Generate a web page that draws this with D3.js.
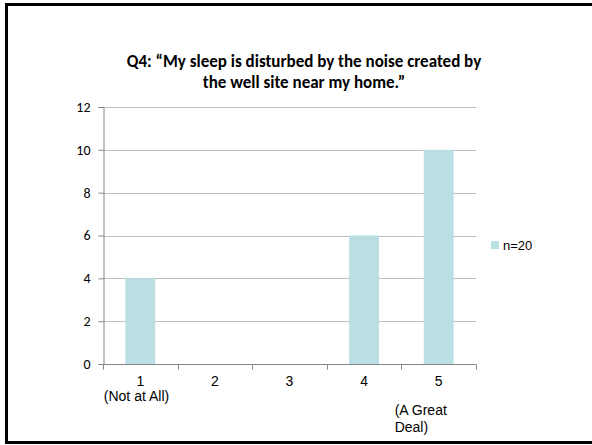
<!DOCTYPE html>
<html>
<head>
<meta charset="utf-8">
<script src="https://cdn.jsdelivr.net/npm/d3@7"></script>
<style>
  html, body { margin: 0; padding: 0; background: #fff; overflow: hidden; }
  svg { display: block; }
</style>
</head>
<body>
<svg id="chart" width="592" height="445"></svg>
<script>
// Response categories and counts
const categories = ["1", "2", "3", "4", "5"];
const categoryNotes = [["(Not at All)"], [], [], [], ["(A Great", "Deal)"]];
const counts = [4, 0, 0, 6, 10];
const seriesName = "n=20";
const yTicks = [0, 2, 4, 6, 8, 10, 12];
const titleLines = ["Q4: \u201cMy sleep is disturbed by the noise created by", "the well site near my home.\u201d"];

const svg = d3.select("#chart");

// Slide frame (runs past the right edge)
svg.append("rect")
  .attr("x", 6.5).attr("y", 4.5)
  .attr("width", 700).attr("height", 438)
  .attr("fill", "none").attr("stroke", "#000").attr("stroke-width", 3);

const plot = { left: 103, right: 476, top: 107, bottom: 364 };

const x = d3.scaleBand()
  .domain(categories)
  .range([plot.left, plot.right])
  .paddingInner(0.6)
  .paddingOuter(0.3);

const y = d3.scaleLinear()
  .domain([0, 12])
  .range([plot.bottom, plot.top]);

// Horizontal gridlines
svg.append("g")
  .selectAll("line")
  .data(yTicks.filter(d => d > 0))
  .join("line")
  .attr("x1", plot.left).attr("x2", plot.right)
  .attr("y1", d => Math.round(y(d)) + 0.5).attr("y2", d => Math.round(y(d)) + 0.5)
  .attr("stroke", "#bfbfbf").attr("stroke-width", 1);

// Bars
const barColor = "#b9dfe2";
svg.append("g")
  .selectAll("rect")
  .data(counts.map((v, i) => ({ cat: categories[i], v })))
  .join("rect")
  .attr("x", d => x(d.cat))
  .attr("y", d => y(d.v))
  .attr("width", x.bandwidth())
  .attr("height", d => y(0) - y(d.v))
  .attr("fill", barColor);

// Y axis
const bodyFont = "Carlito, Calibri, Lato, 'Open Sans', sans-serif";
const yAxis = svg.append("g")
  .attr("transform", `translate(${plot.left + 0.5},0)`)
  .call(d3.axisLeft(y).tickValues(yTicks).tickSize(5).tickPadding(8).tickFormat(d3.format("d")));
yAxis.select(".domain").attr("stroke", "#868686");
yAxis.selectAll(".tick line").attr("stroke", "#868686");
yAxis.selectAll(".tick text")
  .attr("fill", "#000")
  .style("font-family", bodyFont)
  .style("font-size", "14px");

// X axis with ticks on category boundaries
const xAxisG = svg.append("g").attr("transform", `translate(0,${plot.bottom + 0.5})`);
xAxisG.append("line")
  .attr("x1", plot.left).attr("x2", plot.right)
  .attr("stroke", "#868686");
const step = x.step();
const boundaries = d3.range(categories.length + 1).map(i => plot.left + i * step);
xAxisG.selectAll("line.tick")
  .data(boundaries)
  .join("line")
  .attr("class", "tick")
  .attr("x1", d => Math.round(d) + 0.5).attr("x2", d => Math.round(d) + 0.5)
  .attr("y1", 0).attr("y2", 5)
  .attr("stroke", "#868686");

const labelFont = "'Liberation Sans', Arial, sans-serif";
const noteLayout = { "1": { dx: -36.5, ys: [401] }, "5": { dx: -44, ys: [415, 432] } };
const xLabels = svg.append("g")
  .selectAll("text")
  .data(categories.map((c, i) => ({ c, notes: categoryNotes[i] })))
  .join("text")
  .attr("font-family", labelFont)
  .attr("font-size", "14px")
  .attr("fill", "#000");
xLabels.each(function (d) {
  const t = d3.select(this);
  const cx = x(d.c) + x.bandwidth() / 2;
  t.append("tspan").attr("x", cx).attr("y", 386).attr("text-anchor", "middle").text(d.c);
  d.notes.forEach((n, j) => {
    const lay = noteLayout[d.c];
    t.append("tspan")
      .attr("x", cx + lay.dx)
      .attr("y", lay.ys[j])
      .text(n);
  });
});

// Legend
const legend = svg.append("g").attr("transform", "translate(491,241)");
legend.append("rect").attr("width", 8).attr("height", 8).attr("fill", barColor);
legend.append("text")
  .attr("x", 12).attr("y", 8.5)
  .attr("font-family", labelFont)
  .attr("font-size", "13px")
  .attr("fill", "#000")
  .text(seriesName);

// Title
svg.append("text")
  .attr("font-family", bodyFont)
  .attr("font-weight", "bold")
  .attr("font-size", "17px")
  .attr("fill", "#000")
  .attr("text-anchor", "middle")
  .selectAll("tspan")
  .data(titleLines)
  .join("tspan")
  .attr("x", 304)
  .attr("y", (d, i) => 67 + i * 21)
  .text(d => d);
</script>
</body>
</html>
